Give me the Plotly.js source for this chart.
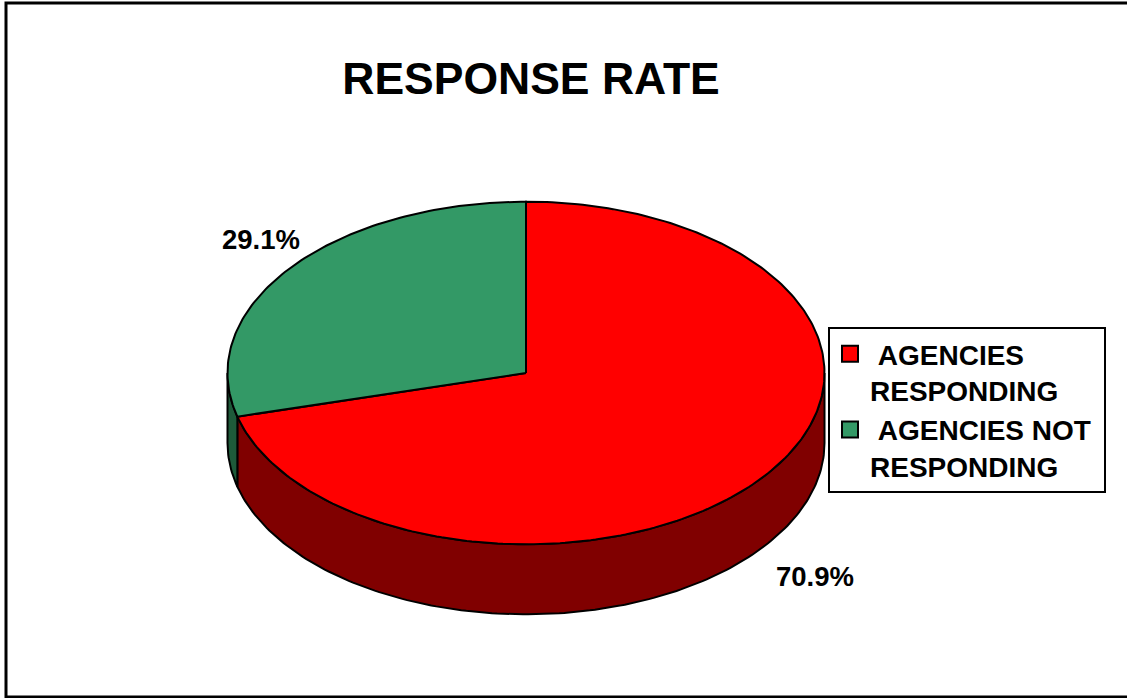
<!DOCTYPE html>
<html>
<head>
<meta charset="utf-8">
<script src="https://cdn.plot.ly/plotly-3.0.1.min.js"></script>
<style>html,body{margin:0;padding:0;background:#fff;}#chart{width:1127px;height:698px;}</style>
</head>
<body>
<div id="chart"></div>
<script>
// ---- data ----
const categories = ['AGENCIES RESPONDING', 'AGENCIES NOT RESPONDING'];
const legendNames = ['\u00a0AGENCIES<br>RESPONDING', '\u00a0AGENCIES NOT\u00a0<br>RESPONDING'];
const values = [70.9, 29.1];
const pctLabels = ['70.9%', '29.1%'];
const titleText = 'RESPONSE RATE';

// ---- styles / geometry ----
const topColors = ['#FF0000', '#339966'];
const sideColors = ['#800000', '#1E5A3A'];
const W = 1127, H = 698;
const cx = 526, cy = 373, rx = 298.5, ry = 171.3, depth = 70;
const FONT = 'Liberation Sans, Arial, sans-serif';

const total = values.reduce((a, b) => a + b, 0);
function pt(tDeg, dz) {
  const t = tDeg * Math.PI / 180;
  return [cx + rx * Math.cos(t), cy - ry * Math.sin(t) + (dz || 0)];
}
function arc(a, b, dz) {
  const n = Math.max(2, Math.ceil(Math.abs(b - a)) + 1);
  const xs = [], ys = [];
  for (let i = 0; i < n; i++) {
    const p = pt(a + (b - a) * i / (n - 1), dz);
    xs.push(p[0]); ys.push(p[1]);
  }
  return [xs, ys];
}

// slices clockwise from 12 o'clock
let start = 90;
const slices = values.map((v, i) => {
  const sweep = v / total * 360;
  const s = { i: i, hi: start, lo: start - sweep };
  start -= sweep;
  return s;
});

const traces = [];
// side walls (front half only: angles where sin < 0)
slices.forEach(s => {
  [[-180, 0], [-540, -360], [180, 360]].forEach(([f0, f1]) => {
    const a = Math.max(s.lo, f0), b = Math.min(s.hi, f1);
    if (b > a) {
      const top = arc(a, b, 0), bot = arc(b, a, depth);
      traces.push({
        type: 'scatter', mode: 'lines', fill: 'toself',
        x: top[0].concat(bot[0], [top[0][0]]),
        y: top[1].concat(bot[1], [top[1][0]]),
        fillcolor: sideColors[s.i], line: { color: '#000', width: 2 },
        hoverinfo: 'skip', showlegend: false
      });
    }
  });
});
// top faces
slices.forEach(s => {
  const a = arc(s.lo, s.hi, 0);
  traces.push({
    type: 'scatter', mode: 'lines', fill: 'toself',
    x: [cx].concat(a[0], [cx]), y: [cy].concat(a[1], [cy]),
    fillcolor: topColors[s.i], line: { color: '#000', width: 2 },
    name: categories[s.i], hoverinfo: 'skip', showlegend: false
  });
});
// legend entries
categories.forEach((c, i) => {
  traces.push({
    type: 'scatter', mode: 'markers', x: [null], y: [null],
    name: legendNames[i],
    marker: { symbol: 'square', size: 16, color: topColors[i], line: { color: '#000', width: 2 } },
    hoverinfo: 'skip', showlegend: true
  });
});

// percentage labels
const kx = 1.17, ky = 1.28, labelDx = 12;
const annotations = slices.map(s => {
  const m = (s.lo + s.hi) / 2 * Math.PI / 180;
  const c = Math.cos(m), sn = Math.sin(m);
  return {
    x: cx + labelDx + rx * kx * c,
    y: cy - ry * ky * sn + (sn < 0 ? depth : 0),
    xref: 'x', yref: 'y', text: pctLabels[s.i], showarrow: false,
    xanchor: 'center', yanchor: 'middle',
    font: { family: FONT, size: 27.5, weight: 'bold', color: '#000' }
  };
});

const layout = {
  width: W, height: H,
  margin: { l: 0, r: 0, t: 0, b: 0 },
  paper_bgcolor: '#fff', plot_bgcolor: '#fff',
  xaxis: { range: [0, W], visible: false, fixedrange: true },
  yaxis: { range: [H, 0], visible: false, fixedrange: true },
  title: {
    text: titleText, x: 531 / W, xanchor: 'center', y: 1 - 78 / H, yanchor: 'middle',
    font: { family: FONT, size: 44.5, weight: 'bold', color: '#000' }
  },
  showlegend: true,
  legend: {
    x: 828 / W, y: 1 - 327 / H, xanchor: 'left', yanchor: 'top',
    bordercolor: '#000', borderwidth: 2, bgcolor: '#fff',
    font: { family: FONT, size: 28, weight: 'bold', color: '#000' },
    valign: 'top', itemwidth: 30
  },
  annotations: annotations,
  shapes: [{
    type: 'rect', xref: 'paper', yref: 'paper',
    x0: 6 / W, x1: 1.01, y0: 1 - 3 / H, y1: 1 - 697 / H,
    line: { color: '#000', width: 3 }, fillcolor: 'rgba(0,0,0,0)'
  }]
};

Plotly.newPlot('chart', traces, layout, { displayModeBar: false, staticPlot: true });
</script>
</body>
</html>
